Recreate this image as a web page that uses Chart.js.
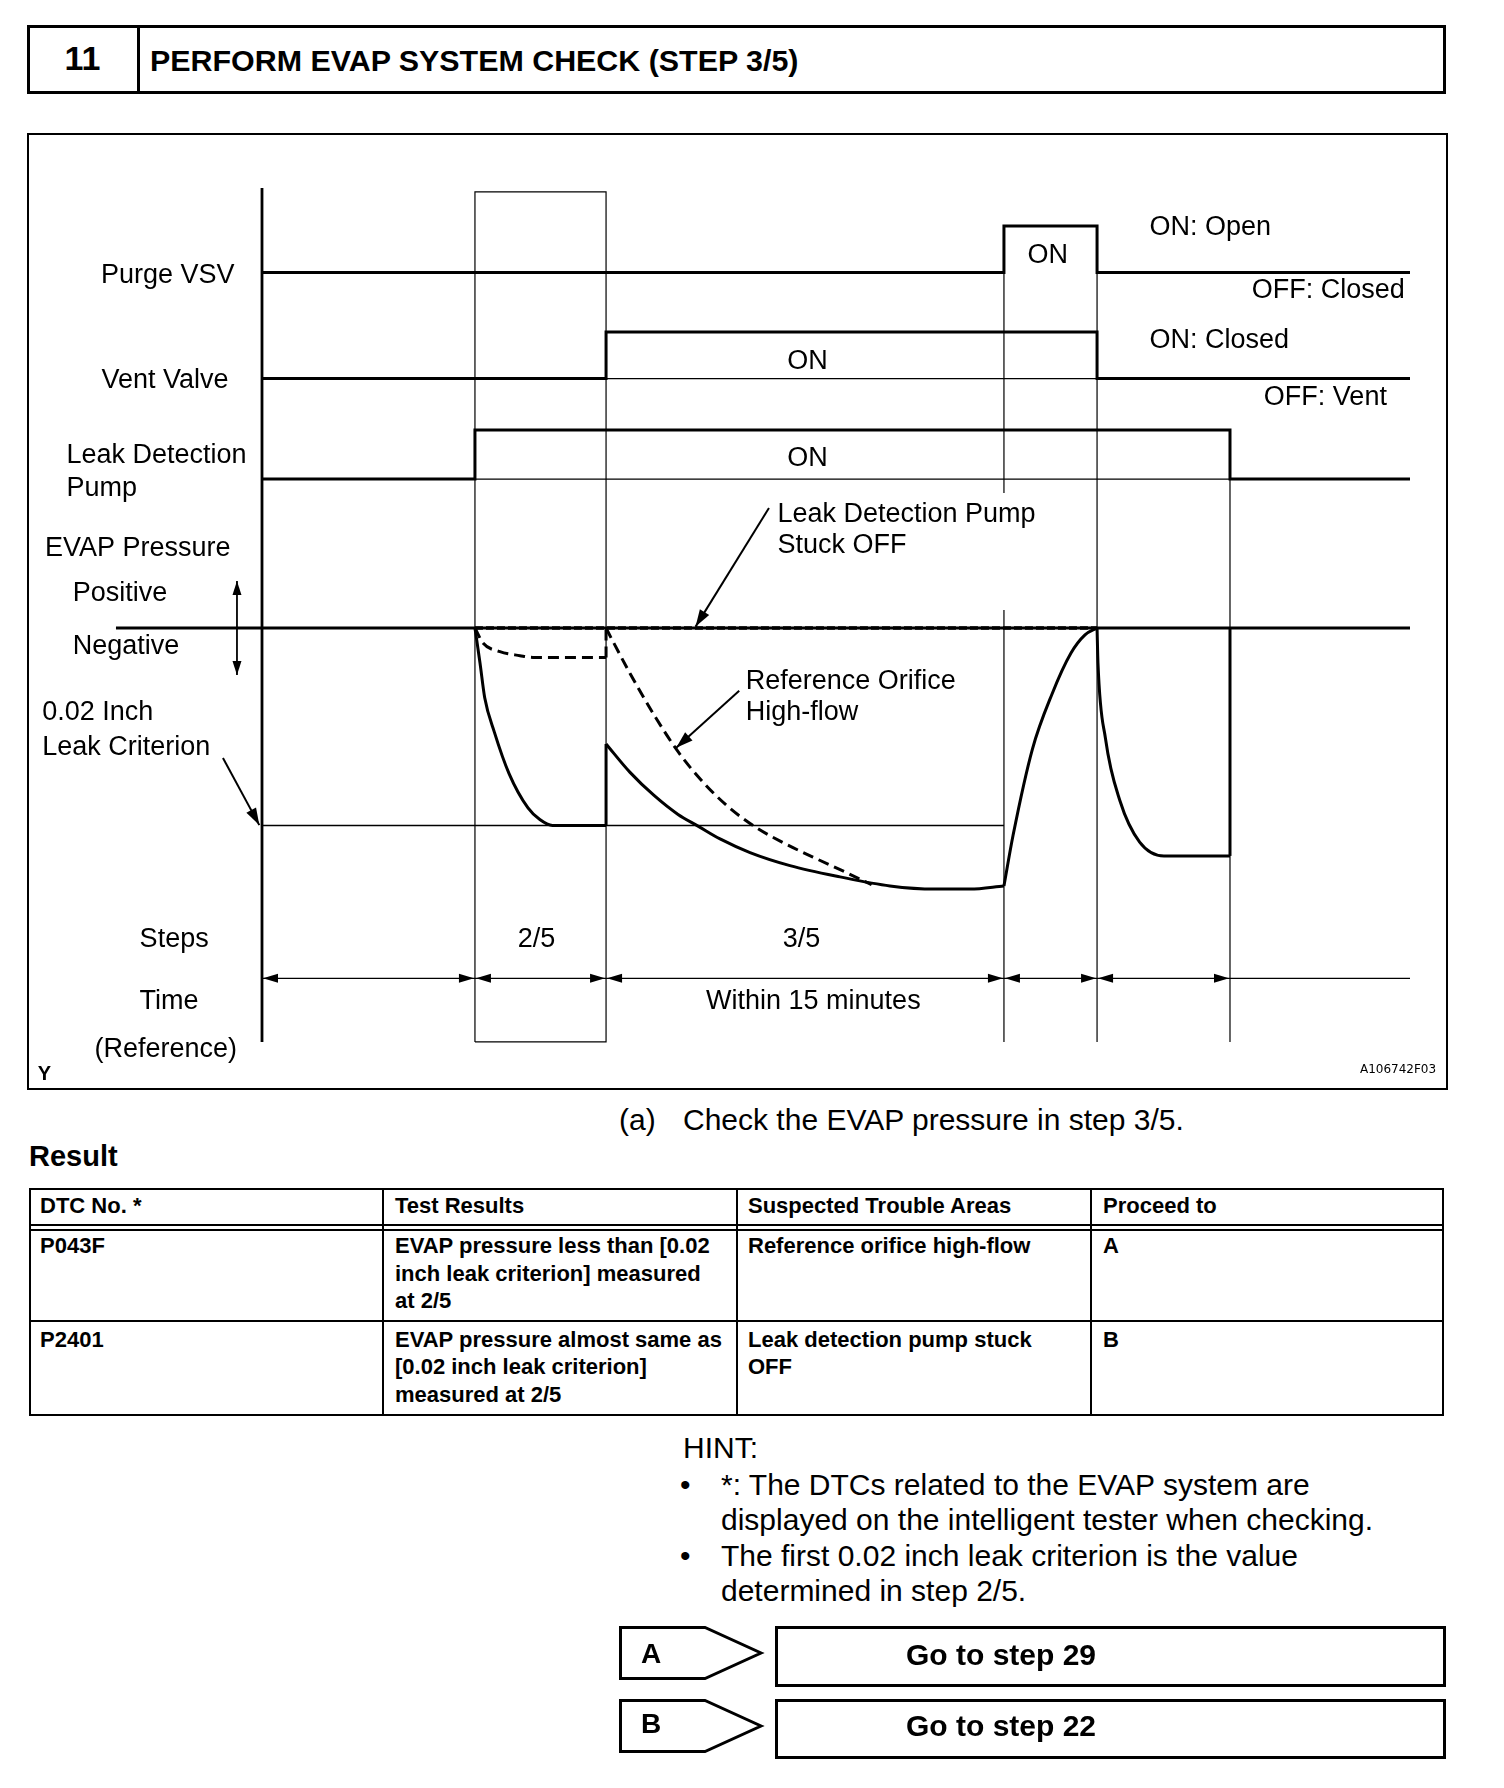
<!DOCTYPE html>
<html>
<head>
<meta charset="utf-8">
<script src="https://cdn.jsdelivr.net/npm/chart.js@4.4.0/dist/chart.umd.min.js"></script>
<style>
  html, body { margin: 0; padding: 0; background: #fff; }
  body { width: 1504px; height: 1788px; position: relative; overflow: hidden;
         font-family: "Liberation Sans", Arial, sans-serif; color: #000; }
  .abs { position: absolute; white-space: nowrap; line-height: 1; }
  .b { font-weight: bold; }
  .rule { position: absolute; background: #000; }
  .cell { position: absolute; font-weight: bold; font-size: 22px; line-height: 27.5px; white-space: nowrap; }
  .hint { position: absolute; font-size: 30px; line-height: 1; white-space: nowrap; }
  .go { position: absolute; border: 3px solid #000; box-sizing: border-box; }
</style>
</head>
<body>

<!-- step header -->
<div class="abs" style="left:27px;top:25px;width:1419px;height:69px;border:3px solid #000;box-sizing:border-box"></div>
<div class="rule" style="left:137px;top:25px;width:3px;height:69px"></div>
<div class="abs b" style="left:27px;top:41px;width:111px;text-align:center;font-size:34px">11</div>
<div class="abs b" style="left:150px;top:44.5px;font-size:30.4px">PERFORM EVAP SYSTEM CHECK (STEP 3/5)</div>

<!-- timing diagram -->
<canvas id="evapChart" width="1421" height="957" style="position:absolute;left:27px;top:133px"></canvas>
<div class="abs" style="left:27px;top:133px;width:1421px;height:957px;border:2px solid #000;box-sizing:border-box"></div>

<div class="abs" style="left:619px;top:1104.5px;font-size:30px">(a)</div>
<div class="abs" style="left:683px;top:1104.5px;font-size:30px">Check the EVAP pressure in step 3/5.</div>

<div class="abs b" style="left:29px;top:1142px;font-size:29px">Result</div>

<!-- result table -->
<div class="rule" style="left:29px;top:1188px;width:1415px;height:2px"></div>
<div class="rule" style="left:29px;top:1224px;width:1415px;height:2px"></div>
<div class="rule" style="left:29px;top:1228.5px;width:1415px;height:2px"></div>
<div class="rule" style="left:29px;top:1320px;width:1415px;height:2px"></div>
<div class="rule" style="left:29px;top:1414px;width:1415px;height:2px"></div>
<div class="rule" style="left:29px;top:1188px;width:2px;height:228px"></div>
<div class="rule" style="left:1442px;top:1188px;width:2px;height:228px"></div>
<div class="rule" style="left:382px;top:1188px;width:1.5px;height:228px"></div>
<div class="rule" style="left:736px;top:1188px;width:1.5px;height:228px"></div>
<div class="rule" style="left:1090px;top:1188px;width:1.5px;height:228px"></div>

<div class="cell" style="left:40px;top:1192px">DTC No. *</div>
<div class="cell" style="left:395px;top:1192px">Test Results</div>
<div class="cell" style="left:748px;top:1192px">Suspected Trouble Areas</div>
<div class="cell" style="left:1103px;top:1192px">Proceed to</div>

<div class="cell" style="left:40px;top:1232px">P043F</div>
<div class="cell" style="left:395px;top:1232px">EVAP pressure less than [0.02<br>inch leak criterion] measured<br>at 2/5</div>
<div class="cell" style="left:748px;top:1232px">Reference orifice high-flow</div>
<div class="cell" style="left:1103px;top:1232px">A</div>

<div class="cell" style="left:40px;top:1325.5px">P2401</div>
<div class="cell" style="left:395px;top:1325.5px">EVAP pressure almost same as<br>[0.02 inch leak criterion]<br>measured at 2/5</div>
<div class="cell" style="left:748px;top:1325.5px">Leak detection pump stuck<br>OFF</div>
<div class="cell" style="left:1103px;top:1325.5px">B</div>

<!-- hint -->
<div class="hint" style="left:683px;top:1433px">HINT:</div>
<div class="hint" style="left:680px;top:1469.5px">•</div>
<div class="hint" style="left:721px;top:1469.5px">*: The DTCs related to the EVAP system are</div>
<div class="hint" style="left:721px;top:1505px">displayed on the intelligent tester when checking.</div>
<div class="hint" style="left:680px;top:1541px">•</div>
<div class="hint" style="left:721px;top:1541px">The first 0.02 inch leak criterion is the value</div>
<div class="hint" style="left:721px;top:1576px">determined in step 2/5.</div>

<!-- branches -->
<svg class="abs" style="left:0;top:0" width="1504" height="1788">
  <polygon points="620.5,1627.5 705,1627.5 761,1653 705,1678.5 620.5,1678.5" fill="none" stroke="#000" stroke-width="3"/>
  <polygon points="620.5,1700.5 705,1700.5 761,1726 705,1751.5 620.5,1751.5" fill="none" stroke="#000" stroke-width="3"/>
</svg>
<div class="abs b" style="left:641px;top:1639.5px;font-size:28px">A</div>
<div class="abs b" style="left:641px;top:1709.5px;font-size:28px">B</div>
<div class="go" style="left:775px;top:1626px;width:671px;height:61px"></div>
<div class="go" style="left:775px;top:1698.5px;width:671px;height:60px"></div>
<div class="abs b" style="left:906px;top:1639.5px;font-size:30px">Go to step 29</div>
<div class="abs b" style="left:906px;top:1711px;font-size:30px">Go to step 22</div>

<script>
// time axis: start, pump on, step 3/5, purge on, purge off, pump off, end
const eventTimes = [0, 18.55, 29.97, 64.63, 72.74, 84.32, 100];

// valve / pump state for each interval between two events (1 = ON)
const purgeVsvStates = [0, 0, 0, 1, 0, 0];
const ventValveStates = [0, 0, 1, 1, 0, 0];
const leakPumpStates = [0, 1, 1, 1, 1, 0];

// EVAP pressure: 0 = atmosphere, -1 = 0.02 inch leak criterion
const step2PressureX = [18.55, 18.99, 19.40, 20.24, 21.52, 23.17, 24.2, 25.31, 29.97];
const step2PressureY = [0, -0.177, -0.353, -0.527, -0.737, -0.911, -0.97, -1.0, -1.0];
const step3PressureX = [29.97, 32.06, 34.15, 36.24, 37.98, 39.9, 42.51, 45.99, 50.35, 54.7, 58.62, 61.67, 64.63];
const step3PressureY = [-0.587, -0.731, -0.848, -0.944, -1.003, -1.068, -1.137, -1.203, -1.26, -1.306, -1.322, -1.322, -1.306];
const purgePressureX = [64.63, 65.42, 67.11, 68.82, 70.47, 71.69, 72.74];
const purgePressureY = [-1.306, -1.051, -0.613, -0.334, -0.127, -0.035, 0];
const step4PressureX = [72.74, 72.82, 73.48, 74.74, 76.45, 78.57, 84.32];
const step4PressureY = [0, -0.177, -0.562, -0.876, -1.084, -1.154, -1.154];

// reference orifice high-flow (dashed)
const orificeStep2X = [18.55, 19.25, 20.73, 22.47, 23.6, 29.97];
const orificeStep2Y = [0, -0.076, -0.12, -0.14, -0.149, -0.149];
const orificeStep3X = [29.97, 30.5, 32.06, 34.15, 36.29, 38.41, 40.51, 43.03, 45.5, 47.99, 50.96, 53.1];
const orificeStep3Y = [0, -0.06, -0.23, -0.44, -0.63, -0.78, -0.9, -1.01, -1.09, -1.16, -1.24, -1.3];

// leak detection pump stuck OFF (dashed, stays at 0)
const stuckOffX = [18.55, 72.74];
const stuckOffY = [0, 0];

// diagram layout in chart units
const layout = {
  axisTop: 2.228, boxTop: 2.208, bottom: -2.096,
  zeroStart: -12.72, criterion: -1, timeRow: -1.774,
  textGapTop: 0.684, textGapBottom: 0.091,
  lanes: {
    purge: { base: 1.80, high: 2.035 },
    vent: { base: 1.263, high: 1.499 },
    pump: { base: 0.754, high: 1.003 }
  }
};

const labels = [
  ["Purge VSV", -14.02, 1.747], ["Vent Valve", -13.98, 1.215],
  ["Leak Detection", -17.04, 0.835], ["Pump", -17.04, 0.668],
  ["EVAP Pressure", -18.9, 0.365], ["Positive", -16.49, 0.137], ["Negative", -16.49, -0.134],
  ["0.02 Inch", -19.15, -0.466], ["Leak Criterion", -19.15, -0.641],
  ["Steps", -10.66, -1.615], ["2/5", 22.27, -1.615], ["3/5", 45.37, -1.615],
  ["Time", -10.66, -1.927], ["Within 15 minutes", 38.68, -1.927], ["(Reference)", -14.59, -2.172],
  ["ON", 66.68, 1.848], ["ON", 45.76, 1.311], ["ON", 45.76, 0.818],
  ["ON: Open", 77.3, 1.99], ["OFF: Closed", 86.21, 1.671], ["ON: Closed", 77.3, 1.418], ["OFF: Vent", 87.27, 1.129],
  ["Leak Detection Pump", 44.9, 0.539], ["Stuck OFF", 44.9, 0.38],
  ["Reference Orifice", 42.14, -0.309], ["High-flow", 42.14, -0.466]
];

const pointers = [
  [-3.40, -0.658, -0.235, -0.998],
  [44.16, 0.608, 37.77, 0.007],
  [41.57, -0.318, 36.08, -0.606]
];

const zip = (xs, ys) => xs.map((x, i) => ({ x, y: ys[i] }));
const last = arr => arr[arr.length - 1];

function stepPoints(states, lane) {
  const pts = states.map((s, i) => ({ x: eventTimes[i], y: lane.base + s * (lane.high - lane.base) }));
  pts.push({ x: last(eventTimes), y: last(pts).y });
  return pts;
}

function onSpan(states, lane) {
  const first = states.indexOf(1);
  const end = states.lastIndexOf(1) + 1;
  return [{ x: eventTimes[first], y: lane.base }, { x: eventTimes[end], y: lane.base }];
}

const [t0, t1, t2, t3, t4, t5, tEnd] = eventTimes;
const L = layout;
const gap = { x: null, y: null };

const thinLines = [
  { x: t1, y: L.bottom }, { x: t1, y: L.boxTop }, { x: t2, y: L.boxTop }, { x: t2, y: L.bottom }, { x: t1, y: L.bottom }, gap,
  { x: t3, y: L.lanes.purge.high }, { x: t3, y: L.textGapTop }, gap,
  { x: t3, y: L.textGapBottom }, { x: t3, y: L.bottom }, gap,
  { x: t4, y: L.lanes.purge.base }, { x: t4, y: L.bottom }, gap,
  { x: t5, y: L.lanes.pump.base }, { x: t5, y: L.bottom }, gap,
  ...onSpan(ventValveStates, L.lanes.vent), gap,
  ...onSpan(leakPumpStates, L.lanes.pump), gap,
  { x: t0, y: L.timeRow }, { x: tEnd, y: L.timeRow }
];

const solid = (data, width, extra) => Object.assign({
  data, borderColor: "#000", borderWidth: width, pointRadius: 0, fill: false,
  clip: false, spanGaps: false, tension: 0
}, extra || {});
const curve = { cubicInterpolationMode: "monotone" };
const dashed = Object.assign({ borderDash: [11, 6] }, curve);

const datasets = [
  solid(thinLines, 1.2),
  solid([{ x: t0, y: L.criterion }, { x: t3, y: L.criterion }], 1.7),
  solid([{ x: t0, y: L.bottom }, { x: t0, y: L.axisTop }], 2.8),
  solid([{ x: L.zeroStart, y: 0 }, { x: tEnd, y: 0 }], 2.8),
  solid(stepPoints(purgeVsvStates, L.lanes.purge), 3, { stepped: true }),
  solid(stepPoints(ventValveStates, L.lanes.vent), 3, { stepped: true }),
  solid(stepPoints(leakPumpStates, L.lanes.pump), 3, { stepped: true }),
  solid(zip(stuckOffX, stuckOffY), 3.4, { borderDash: [8, 3] }),
  solid(zip(orificeStep2X, orificeStep2Y), 3, dashed),
  solid([{ x: t2, y: last(orificeStep2Y) }, { x: t2, y: 0 }], 3, { borderDash: [11, 6] }),
  solid(zip(orificeStep3X, orificeStep3Y), 3, dashed),
  solid(zip(step2PressureX, step2PressureY), 3, curve),
  solid([{ x: t2, y: last(step2PressureY) }, { x: t2, y: step3PressureY[0] }], 3),
  solid(zip(step3PressureX, step3PressureY), 3, curve),
  solid(zip(purgePressureX, purgePressureY), 3, curve),
  solid(zip(step4PressureX, step4PressureY), 3, curve),
  solid([{ x: t5, y: last(step4PressureY) }, { x: t5, y: 0 }], 3)
];

function arrowHead(ctx, x1, y1, x2, y2, len, half) {
  const a = Math.atan2(y2 - y1, x2 - x1);
  const c = Math.cos(a), s = Math.sin(a);
  ctx.beginPath();
  ctx.moveTo(x2, y2);
  ctx.lineTo(x2 - len * c + half * s, y2 - len * s - half * c);
  ctx.lineTo(x2 - len * c - half * s, y2 - len * s + half * c);
  ctx.closePath();
  ctx.fill();
}

const annotations = {
  id: "annotations",
  afterDatasetsDraw(chart) {
    const { ctx, scales: { x, y } } = chart;
    const X = v => x.getPixelForValue(v);
    const Y = v => y.getPixelForValue(v);
    ctx.save();
    ctx.fillStyle = "#000";
    ctx.strokeStyle = "#000";

    // time dimension arrows
    const ty = Y(L.timeRow);
    for (let i = 0; i < 5; i++) {
      const a = X(eventTimes[i]), b = X(eventTimes[i + 1]);
      arrowHead(ctx, a + 20, ty, a + 1, ty, 15, 4.5);
      arrowHead(ctx, b - 20, ty, b - 1, ty, 15, 4.5);
    }

    // positive / negative double arrow
    const px = X(-2.18);
    ctx.lineWidth = 1.8;
    ctx.beginPath();
    ctx.moveTo(px, Y(0.238));
    ctx.lineTo(px, Y(-0.238));
    ctx.stroke();
    arrowHead(ctx, px, Y(0), px, Y(0.238), 14, 4.5);
    arrowHead(ctx, px, Y(0), px, Y(-0.238), 14, 4.5);

    // pointer arrows
    pointers.forEach(([xa, ya, xb, yb]) => {
      ctx.lineWidth = 2;
      ctx.beginPath();
      ctx.moveTo(X(xa), Y(ya));
      ctx.lineTo(X(xb), Y(yb));
      ctx.stroke();
      arrowHead(ctx, X(xa), Y(ya), X(xb), Y(yb), 17, 5.5);
    });

    // texts
    ctx.textAlign = "left";
    ctx.textBaseline = "alphabetic";
    ctx.font = '27px "Liberation Sans", Arial, sans-serif';
    labels.forEach(([text, lx, ly]) => ctx.fillText(text, X(lx), Y(ly)));
    ctx.font = 'bold 20px "Liberation Sans", Arial, sans-serif';
    ctx.fillText("Y", X(-19.53), Y(-2.289));
    ctx.font = '12px "DejaVu Sans", sans-serif';
    ctx.fillText("A106742F03", X(95.64), Y(-2.253));
    ctx.restore();
  }
};

new Chart(document.getElementById("evapChart"), {
  type: "line",
  data: { datasets },
  plugins: [annotations],
  options: {
    responsive: false,
    animation: false,
    events: [],
    layout: { padding: { left: 235, right: 38, top: 50.625, bottom: 47.25 } },
    plugins: { legend: { display: false }, tooltip: { enabled: false } },
    scales: {
      x: { type: "linear", min: 0, max: 100, display: false },
      y: { type: "linear", min: -2.1, max: 2.25, display: false }
    }
  }
});
</script>
</body>
</html>
